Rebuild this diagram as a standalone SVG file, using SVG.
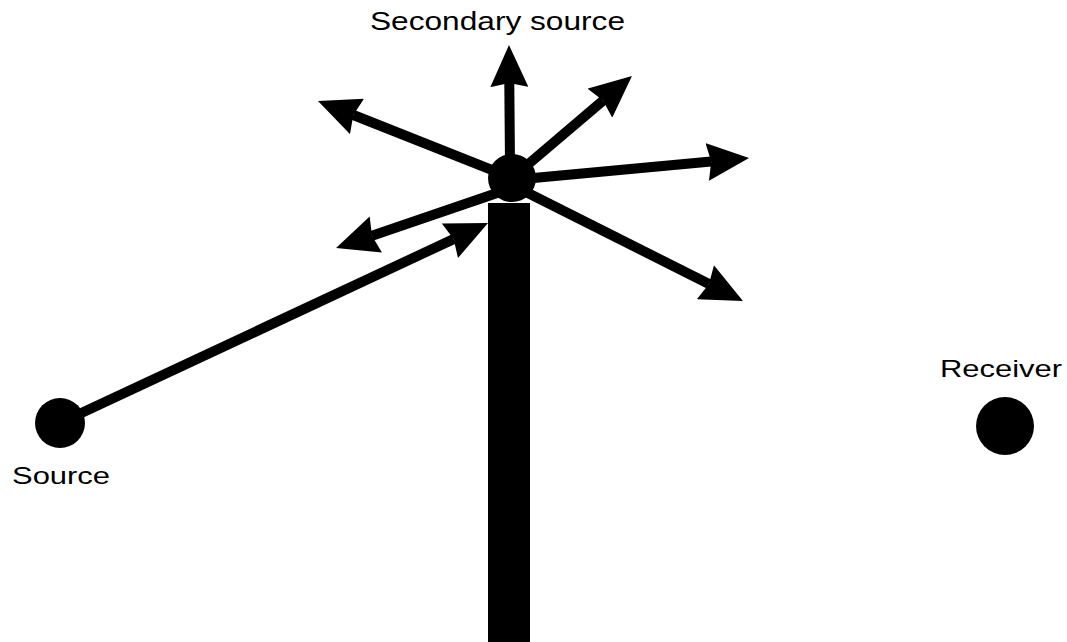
<svg xmlns="http://www.w3.org/2000/svg" width="1067" height="642" viewBox="0 0 1067 642">
  <style>
    .lbl { font-family: "Liberation Sans", Arial, sans-serif; fill: #000; }
    .ray { stroke: #000; stroke-width: 10; fill: none; marker-end: url(#ah); }
  </style>
  <defs>
    <marker id="ah" viewBox="0 0 42 38" refX="4" refY="19" markerWidth="42" markerHeight="38" markerUnits="userSpaceOnUse" orient="auto">
      <path d="M0,0 L42,19 L0,38 L4,19 Z" fill="#000"/>
    </marker>
  </defs>
  <rect width="1067" height="642" fill="#fff"/>

  <g id="wall">
    <rect x="488" y="203" width="42" height="439" fill="#000"/>
  </g>

  <g id="connectors">
    <line class="ray" x1="60" y1="423" x2="453.6" y2="239.1"/>
    <line class="ray" x1="510" y1="165" x2="509.3" y2="83"/>
    <line class="ray" x1="512" y1="178" x2="603" y2="100.6"/>
    <line class="ray" x1="512" y1="180" x2="711.2" y2="161.5"/>
    <line class="ray" x1="512" y1="185" x2="709" y2="284"/>
    <line class="ray" x1="512" y1="178" x2="353.3" y2="115"/>
    <line class="ray" x1="500" y1="192" x2="372" y2="235.7"/>
  </g>

  <g id="source">
    <circle cx="60" cy="423" r="25" fill="#000"/>
    <text class="lbl" x="12" y="484" font-size="23" textLength="98" lengthAdjust="spacingAndGlyphs">Source</text>
  </g>

  <g id="secondary-source">
    <circle cx="512" cy="178" r="24" fill="#000"/>
    <text class="lbl" x="370" y="30" font-size="25" textLength="255" lengthAdjust="spacingAndGlyphs">Secondary source</text>
  </g>

  <g id="receiver">
    <circle cx="1005" cy="426" r="29" fill="#000"/>
    <text class="lbl" x="940" y="377" font-size="24" textLength="122" lengthAdjust="spacingAndGlyphs">Receiver</text>
  </g>
</svg>
